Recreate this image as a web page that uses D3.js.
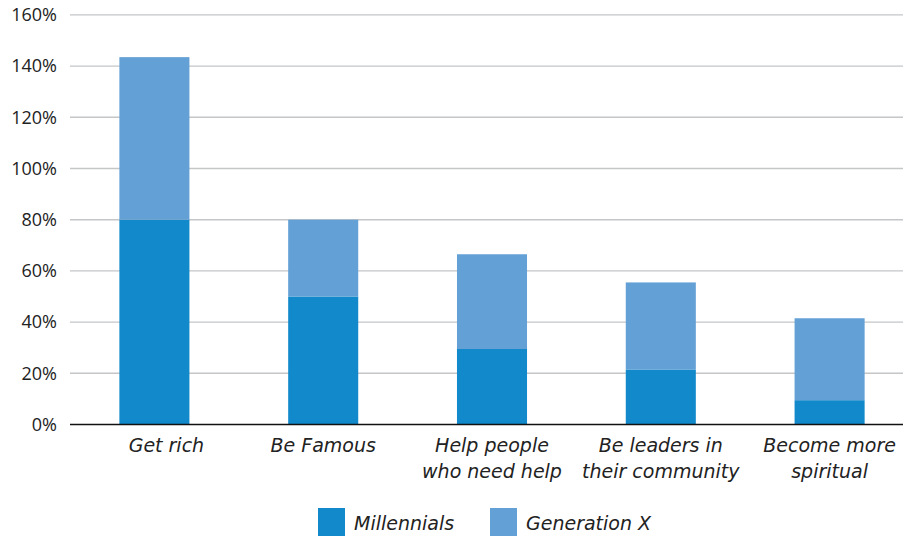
<!DOCTYPE html>
<html>
<head>
<meta charset="utf-8">
<script src="https://cdn.jsdelivr.net/npm/d3@7/dist/d3.min.js"></script>
<style>
  html, body { margin: 0; padding: 0; background: #fff; }
  svg { display: block; font-family: "Open Sans", "Noto Sans", sans-serif; }
</style>
</head>
<body>
<svg id="chart" width="903" height="536"></svg>
<script>
// Survey answers: share of respondents per life goal, stacked by generation
const categories = [
  ["Get rich"],
  ["Be Famous"],
  ["Help people", "who need help"],
  ["Be leaders in", "their community"],
  ["Become more", "spiritual"]
];
const seriesNames = ["Millennials", "Generation X"];
const millennials = [80, 50, 29.5, 21.5, 9.5];
const generationX = [63.5, 30, 37, 34, 32];
const yTicks = [0, 20, 40, 60, 80, 100, 120, 140, 160];
const colors = ["#1189ca", "#63a0d5"];

const svg = d3.select("#chart");
const margin = { left: 70, top: 15, bottom: 111 };
const plotRight = 914;
const height = 536;
const italicFont = "'DejaVu Sans', sans-serif";

const keys = categories.map(c => c.join(" "));
const rows = keys.map((k, i) => ({ key: k, Millennials: millennials[i], "Generation X": generationX[i] }));
const stacked = d3.stack().keys(seriesNames)(rows);

const x = d3.scaleBand().domain(keys).range([margin.left, plotRight]).paddingInner(0.585).paddingOuter(0.2925);
const y = d3.scaleLinear().domain([0, 160]).range([height - margin.bottom - 0.5, margin.top - 0.1]);

// Horizontal gridlines
svg.append("g")
  .selectAll("line")
  .data(yTicks.filter(t => t > 0))
  .join("line")
  .attr("x1", margin.left).attr("x2", plotRight)
  .attr("y1", d => y(d)).attr("y2", d => y(d))
  .attr("stroke", "#c4c6c8").attr("stroke-width", 1.4);

// Y axis labels
const yAxis = svg.append("g")
  .attr("transform", `translate(${margin.left},0)`)
  .call(d3.axisLeft(y).tickValues(yTicks).tickFormat(d => d + "%").tickSize(0).tickPadding(13));
yAxis.select(".domain").remove();
yAxis.selectAll("text")
  .attr("font-size", 18).attr("fill", "#222")
  .attr("font-family", "'Open Sans', sans-serif");

// Stacked bars
svg.append("g")
  .selectAll("g")
  .data(stacked)
  .join("g")
  .attr("fill", (d, i) => colors[i])
  .selectAll("rect")
  .data(d => d)
  .join("rect")
  .attr("x", d => x(d.data.key))
  .attr("width", x.bandwidth())
  .attr("y", d => y(d[1]))
  .attr("height", d => y(d[0]) - y(d[1]));

// Baseline
svg.append("line")
  .attr("x1", margin.left).attr("x2", plotRight)
  .attr("y1", y(0)).attr("y2", y(0))
  .attr("stroke", "#111").attr("stroke-width", 1.5);

// Category labels (the single-line first label sits slightly right of its bar)
const labelNudge = i => (i === 0 ? 12 : 0);
const xLabels = svg.append("g")
  .selectAll("text")
  .data(categories)
  .join("text")
  .attr("x", (d, i) => x(keys[i]) + x.bandwidth() / 2 + labelNudge(i))
  .attr("y", 452)
  .attr("text-anchor", "middle")
  .attr("font-family", italicFont)
  .attr("font-size", 19)
  .attr("font-style", "italic")
  .attr("fill", "#222");
xLabels.selectAll("tspan")
  .data(d => d)
  .join("tspan")
  .attr("x", function () { return d3.select(this.parentNode).attr("x"); })
  .attr("dy", (d, i) => i === 0 ? 0 : 26)
  .text(d => d);

// Legend
const legendX = [318, 490];
const legend = svg.append("g")
  .selectAll("g")
  .data(seriesNames)
  .join("g")
  .attr("transform", (d, i) => `translate(${legendX[i]},508)`);
legend.append("rect")
  .attr("width", 27).attr("height", 28)
  .attr("fill", (d, i) => colors[i]);
legend.append("text")
  .attr("x", 36).attr("y", 22)
  .attr("font-family", italicFont)
  .attr("font-size", 19)
  .attr("font-style", "italic")
  .attr("fill", "#222")
  .text(d => d);
</script>
</body>
</html>
